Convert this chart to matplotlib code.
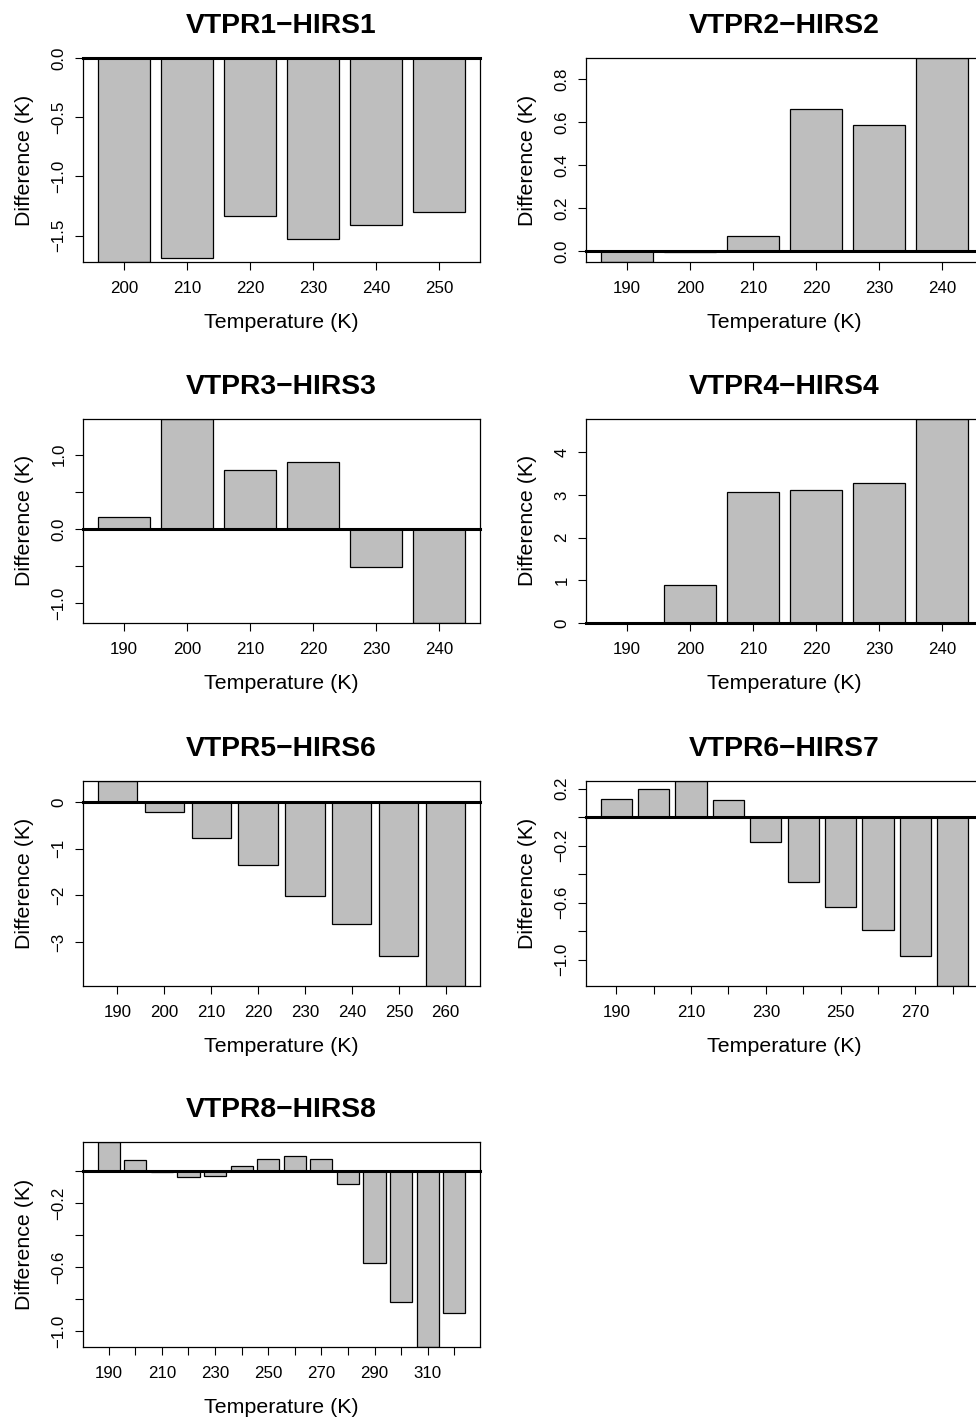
import matplotlib
matplotlib.use("Agg")
import matplotlib.pyplot as plt
import numpy as np

plt.rcParams["font.family"] = ["Liberation Sans", "DejaVu Sans"]

GREY = "#bebebe"

# channel pairs
titles = [
    "VTPR1\u2212HIRS1",
    "VTPR2\u2212HIRS2",
    "VTPR3\u2212HIRS3",
    "VTPR4\u2212HIRS4",
    "VTPR5\u2212HIRS6",
    "VTPR6\u2212HIRS7",
    "VTPR8\u2212HIRS8",
]

# temperature bins (K) and differences (K)
temps_1 = [200, 210, 220, 230, 240, 250]
diff_1 = [-1.723, -1.686, -1.333, -1.528, -1.407, -1.297]

temps_2 = [190, 200, 210, 220, 230, 240]
diff_2 = [-0.051, -0.005, 0.072, 0.658, 0.586, 0.897]

temps_3 = [190, 200, 210, 220, 230, 240]
diff_3 = [0.161, 1.489, 0.798, 0.901, -0.516, -1.269]

temps_4 = [190, 200, 210, 220, 230, 240]
diff_4 = [0.0, 0.89, 3.07, 3.12, 3.28, 4.787]

temps_5 = [190, 200, 210, 220, 230, 240, 250, 260]
diff_5 = [0.451, -0.222, -0.766, -1.346, -2.019, -2.613, -3.30, -3.944]

temps_6 = [190, 200, 210, 220, 230, 240, 250, 260, 270, 280]
diff_6 = [0.124, 0.194, 0.253, 0.117, -0.175, -0.454, -0.627, -0.788, -0.975, -1.184]

temps_8 = [190, 200, 210, 220, 230, 240, 250, 260, 270, 280, 290, 300, 310, 320]
diff_8 = [0.183, 0.071, -0.006, -0.035, -0.029, 0.035, 0.077, 0.098, 0.077,
          -0.081, -0.571, -0.815, -1.098, -0.883]

# y ticks and their labels ("" = tick without label)
yticks_1 = [0.0, -0.5, -1.0, -1.5]
ylabels_1 = ["0.0", "\u22120.5", "\u22121.0", "\u22121.5"]
yticks_2 = [0.0, 0.2, 0.4, 0.6, 0.8]
ylabels_2 = ["0.0", "0.2", "0.4", "0.6", "0.8"]
yticks_3 = [-1.0, -0.5, 0.0, 0.5, 1.0]
ylabels_3 = ["\u22121.0", "", "0.0", "", "1.0"]
yticks_4 = [0, 1, 2, 3, 4]
ylabels_4 = ["0", "1", "2", "3", "4"]
yticks_5 = [0, -1, -2, -3]
ylabels_5 = ["0", "\u22121", "\u22122", "\u22123"]
yticks_6 = [-1.0, -0.8, -0.6, -0.4, -0.2, 0.0, 0.2]
ylabels_6 = ["\u22121.0", "", "\u22120.6", "", "\u22120.2", "", "0.2"]
yticks_8 = [-1.0, -0.8, -0.6, -0.4, -0.2, 0.0]
ylabels_8 = ["\u22121.0", "", "\u22120.6", "", "\u22120.2", ""]

# every n-th x tick gets a label
xstep = [1, 1, 1, 1, 1, 2, 2]

panels = list(zip(
    titles,
    [temps_1, temps_2, temps_3, temps_4, temps_5, temps_6, temps_8],
    [diff_1, diff_2, diff_3, diff_4, diff_5, diff_6, diff_8],
    [yticks_1, yticks_2, yticks_3, yticks_4, yticks_5, yticks_6, yticks_8],
    [ylabels_1, ylabels_2, ylabels_3, ylabels_4, ylabels_5, ylabels_6, ylabels_8],
    xstep,
))

W, H = 976, 1420
COLS = [(83, 480), (586, 983)]
ROWS = [(58, 262), (418.5, 623), (781, 986), (1142, 1347)]

fig = plt.figure(figsize=(W / 100, H / 100), dpi=100)

for k, (title, temps, diff, yt, ytl, step) in enumerate(panels):
    r, c = divmod(k, 2)
    x0, x1 = COLS[c]
    top, bot = ROWS[r]
    ax = fig.add_axes([x0 / W, 1 - bot / H, (x1 - x0) / W, (bot - top) / H])

    n = len(temps)
    pos = 0.7 + 1.2 * np.arange(n)
    ax.bar(pos, diff, width=1.0, color=GREY, edgecolor="black", linewidth=0.9, zorder=2)

    span = 1.2 * n - 0.2
    ax.set_xlim(0.2 - 0.04 * span, 1.2 * n + 0.04 * span)
    ax.set_ylim(min(0, min(diff)), max(0, max(diff)))
    ax.axhline(0, color="black", lw=2.2, zorder=3, clip_on=False)

    ax.set_xticks(pos)
    ax.set_xticklabels([str(t) if i % step == 0 else "" for i, t in enumerate(temps)])
    ax.set_yticks(yt)
    ax.set_yticklabels(ytl, rotation=90, rotation_mode="anchor", ha="center", va="baseline")

    ax.tick_params(direction="out", length=6, width=0.8, labelsize=12.2)
    ax.tick_params(axis="x", pad=7.7)
    ax.tick_params(axis="y", pad=8.2)
    for s in ax.spines.values():
        s.set_linewidth(0.9)

    h_px = bot - top
    w_px = x1 - x0
    ax.text(0.5, 1 + 24.7 / h_px, title, transform=ax.transAxes, ha="center",
            va="baseline", fontsize=20.3, fontweight="bold")
    ax.text(0.5, -66 / h_px, "Temperature (K)", transform=ax.transAxes,
            ha="center", va="baseline", fontsize=15.4)
    ax.text(-53 / w_px, 0.5, "Difference (K)", transform=ax.transAxes, rotation=90,
            rotation_mode="anchor", ha="center", va="baseline", fontsize=15.4)

fig.savefig("out.png", dpi=100)
